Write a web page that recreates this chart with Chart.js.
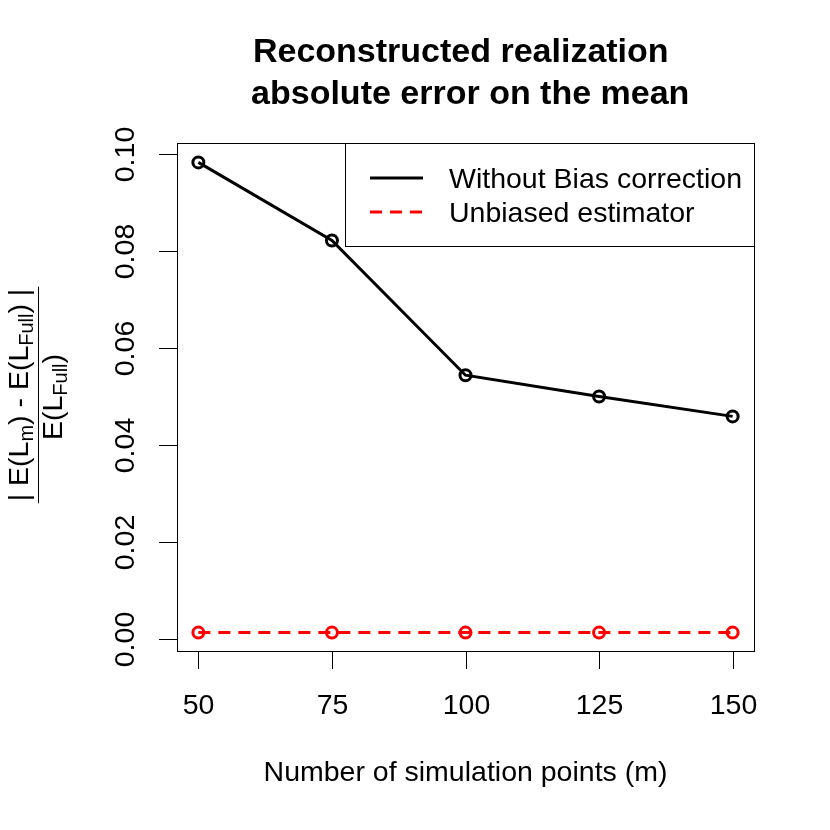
<!DOCTYPE html>
<html>
<head>
<meta charset="utf-8">
<script src="https://cdn.jsdelivr.net/npm/chart.js@4/dist/chart.umd.min.js"></script>
<style>
html,body{margin:0;padding:0;background:#fff;}
#wrap{width:830px;height:830px;position:relative;}
</style>
</head>
<body>
<div id="wrap"><canvas id="c"></canvas></div>
<script>
// ---- data ----
const simPoints = [50, 75, 100, 125, 150];
const withoutBias = [0.0983, 0.0822, 0.0544, 0.0500, 0.0459];
const unbiased = [0.0013, 0.0013, 0.0013, 0.0013, 0.0013];
const seriesLabels = ['Without Bias correction', 'Unbiased estimator'];
const xTickValues = [50, 75, 100, 125, 150];
const yTickValues = [0, 0.02, 0.04, 0.06, 0.08, 0.10];
const yTickLabels = ['0.00', '0.02', '0.04', '0.06', '0.08', '0.10'];
const titleLines = ['Reconstructed realization ', ' absolute error on the mean'];
const xTitle = 'Number of simulation points (m)';

const FONT = '"Liberation Sans", Arial, Helvetica, sans-serif';
const NORMAL = '28.5px ' + FONT;

const rPlot = {
  id: 'rPlot',
  afterDraw(chart) {
    const ctx = chart.ctx;
    const a = chart.chartArea;
    const xs = chart.scales.x, ys = chart.scales.y;
    ctx.save();
    // box
    ctx.strokeStyle = '#000';
    ctx.lineWidth = 1;
    ctx.strokeRect(Math.round(a.left) + 0.5, Math.round(a.top) + 0.5,
                   Math.round(a.right - a.left), Math.round(a.bottom - a.top));
    // x ticks
    ctx.fillStyle = '#000';
    ctx.font = NORMAL;
    ctx.textAlign = 'center';
    ctx.textBaseline = 'alphabetic';
    xTickValues.forEach(v => {
      const px = Math.round(xs.getPixelForValue(v)) + 0.5;
      ctx.beginPath();
      ctx.moveTo(px, a.bottom);
      ctx.lineTo(px, a.bottom + 18);
      ctx.stroke();
      ctx.fillText(String(v), px, a.bottom + 63);
    });
    // y ticks
    yTickValues.forEach((v, i) => {
      const py = Math.round(ys.getPixelForValue(v)) + 0.5;
      ctx.beginPath();
      ctx.moveTo(a.left, py);
      ctx.lineTo(a.left - 18, py);
      ctx.stroke();
      ctx.save();
      ctx.translate(a.left - 43, py);
      ctx.rotate(-Math.PI / 2);
      ctx.textAlign = 'center';
      ctx.fillText(yTickLabels[i], 0, 0);
      ctx.restore();
    });
    // x title
    const cx = (a.left + a.right) / 2;
    ctx.textAlign = 'center';
    ctx.fillText(xTitle, cx, a.bottom + 130);
    // main title
    ctx.font = 'bold 34px ' + FONT;
    ctx.fillText(titleLines[0], cx, 62);
    ctx.fillText(titleLines[1], cx, 104);
    // y title (fraction)
    const cy = (a.top + a.bottom) / 2;
    ctx.save();
    ctx.translate(0, cy);
    ctx.rotate(-Math.PI / 2);
    const big = NORMAL, small = '20px ' + FONT;
    function parts(list) {
      let w = 0;
      list.forEach(p => { ctx.font = p[1] ? small : big; p.w = ctx.measureText(p[0]).width; w += p.w; });
      return w;
    }
    function drawParts(list, centerX, base) {
      const w = parts(list);
      let x = centerX - w / 2;
      ctx.textAlign = 'left';
      list.forEach(p => {
        ctx.font = p[1] ? small : big;
        ctx.fillText(p[0], x, base + (p[1] ? 5 : 0));
        x += p.w;
      });
      return w;
    }
    const num = [['| E(L', 0], ['m', 1], [') - E(L', 0], ['Full', 1], [') |', 0]];
    const den = [['E(L', 0], ['Full', 1], [')', 0]];
    const wn = drawParts(num, 2, 28);
    drawParts(den, 0, 62);
    ctx.lineWidth = 1;
    ctx.beginPath();
    ctx.moveTo(2 - wn / 2 - 2, 38.5);
    ctx.lineTo(2 + wn / 2 + 2, 38.5);
    ctx.stroke();
    ctx.restore();
    // legend
    const lx0 = 345.5, lw = a.right - lx0, lt = a.top + 0.5, lh = 103;
    ctx.strokeStyle = '#000';
    ctx.lineWidth = 1;
    ctx.strokeRect(lx0, lt, Math.round(lw), lh);
    ctx.font = NORMAL;
    ctx.textAlign = 'left';
    chart.data.datasets.forEach((ds, i) => {
      const yy = a.top + 35 + i * 34;
      ctx.save();
      ctx.strokeStyle = ds.borderColor;
      ctx.lineWidth = 3;
      ctx.setLineDash(ds.borderDash || []);
      ctx.beginPath();
      ctx.moveTo(370, yy);
      ctx.lineTo(423, yy);
      ctx.stroke();
      ctx.restore();
      ctx.fillStyle = '#000';
      ctx.fillText(ds.label, 449, yy + 9.5);
    });
    ctx.restore();
  }
};

new Chart(document.getElementById('c'), {
  type: 'line',
  data: {
    datasets: [
      {
        label: seriesLabels[0],
        data: simPoints.map((x, i) => ({ x: x, y: withoutBias[i] })),
        borderColor: '#000',
        borderWidth: 3,
        pointRadius: 5.5,
        pointBorderWidth: 3,
        pointBackgroundColor: 'rgba(0,0,0,0)',
        pointBorderColor: '#000',
        tension: 0
      },
      {
        label: seriesLabels[1],
        data: simPoints.map((x, i) => ({ x: x, y: unbiased[i] })),
        borderColor: '#ff0000',
        borderWidth: 3,
        borderDash: [12, 8],
        pointRadius: 5.5,
        pointBorderWidth: 3,
        pointBackgroundColor: 'rgba(0,0,0,0)',
        pointBorderColor: '#ff0000',
        tension: 0
      }
    ]
  },
  options: {
    responsive: true,
    maintainAspectRatio: false,
    animation: false,
    devicePixelRatio: 1,
    layout: { padding: { left: 177, top: 143, right: 76, bottom: 179 } },
    plugins: { legend: { display: false }, title: { display: false }, tooltip: { enabled: false } },
    scales: {
      x: { type: 'linear', min: 46, max: 154, display: false },
      y: { type: 'linear', min: -0.0025, max: 0.1023, display: false }
    }
  },
  plugins: [rPlot]
});
</script>
</body>
</html>
